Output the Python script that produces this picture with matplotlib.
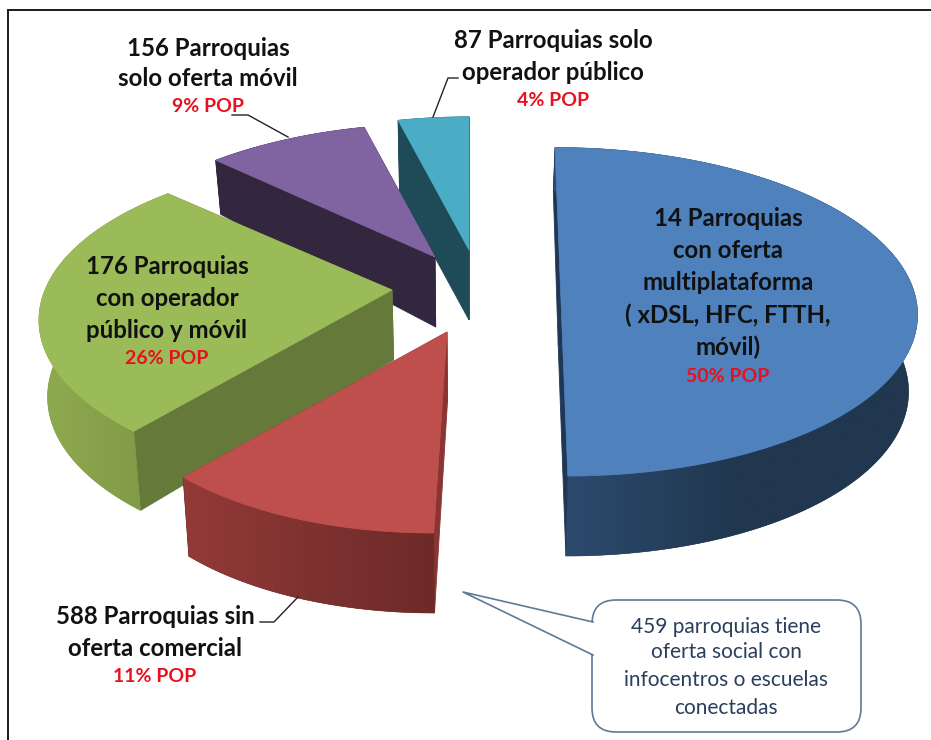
import numpy as np
import matplotlib
matplotlib.use("Agg")
import matplotlib.pyplot as plt
from matplotlib.colors import LinearSegmentedColormap
from matplotlib.patches import Polygon, FancyBboxPatch

# ---------- data ----------
pop_share = [50, 11, 26, 9, 4]
parroquias = [14, 588, 176, 156, 87]
name_lines = [
    ["{n} Parroquias", "con oferta", "multiplataforma", "( xDSL, HFC, FTTH,", "móvil)"],
    ["{n} Parroquias sin", "oferta comercial"],
    ["{n} Parroquias", "con operador", "público y móvil"],
    ["{n} Parroquias", "solo oferta móvil"],
    ["{n} Parroquias solo", "operador público"],
]
callout_lines = ["459 parroquias tiene", "oferta social con", "infocentros o escuelas", "conectadas"]

# ---------- style / layout ----------
top_col = ["#4F81BD", "#BE4F4C", "#9BBB59", "#8064A2", "#4BACC6"]
side_col = ["#1F3654", "#8A3533", "#65793A", "#33263F", "#1F4A57"]
wall_cols = [["#2E4C70", "#20374F", "#20374F"],
             ["#943A38", "#7E3230", "#6E2A28"],
             ["#8FAB4F", "#86A04A", "#7D9645"],
             ["#33263F", "#33263F"],
             ["#1F4A57", "#1F4A57"]]
# apex x, apex y, radius x, radius y, shear, perspective, depth at the far rim
geom = [(560, 275, 347, 156, 0.039, 0.224, 44),
        (447, 332, 330, 156, -0.066, 0.224, 44),
        (392, 290, 347, 158, -0.01, 0.18, 44),
        (435, 257, 347, 163, 0.0, 0.224, 44),
        (469, 250, 347, 163, 0.0, 0.224, 72)]
text_at = [(728, 219, 32), (155, 616, 32), (167, 266, 32), (208, 48, 31), (553, 41, 31)]
VX = 470

fig = plt.figure(figsize=(9.31, 7.40), dpi=100, facecolor="white")
ax = fig.add_axes([0, 0, 1, 1])
ax.axis("off")

ax.plot([8, 8, 931], [740, 10, 10], color="#1a1a1a", lw=1.4, solid_joinstyle="miter", zorder=1)


def rim(g, theta):
    x0, y0, rx, ry, sh, k, _ = g
    u, v = np.sin(theta), np.cos(theta)
    p = 1 / (1 + k * v)
    dy = -ry * v * p
    return x0 + rx * u * p + sh * dy, y0 + dy


def drop(x, y, depth):
    return x - 0.02 * (x - VX), y + depth


edges = np.cumsum([0] + pop_share) / sum(pop_share) * 2 * np.pi
zo = 2
for i in [4, 3, 2, 1, 0]:
    g = geom[i]
    th = np.linspace(edges[i], edges[i + 1], 160)
    xs, ys = rim(g, th)
    depth = np.interp(np.cos(th), [-1, 0, 1], [80, 76, g[6]])
    xb, yb = drop(xs, ys, depth)
    ax0, ay0 = g[0], g[1]
    axb, ayb = drop(ax0, ay0, 70)
    # radial faces
    for j in (0, -1):
        ax.add_patch(Polygon([(ax0, ay0), (xs[j], ys[j]), (xb[j], yb[j]), (axb, ayb)],
                             closed=True, fc=side_col[i], ec=side_col[i], lw=0.6, zorder=zo))
    # outer wall: horizontal gradient clipped to the wall outline
    outline = np.vstack([np.column_stack([xs, ys]), np.column_stack([xb, yb])[::-1]])
    wall = Polygon(outline, closed=True, fc=wall_cols[i][-1], ec=wall_cols[i][-1], lw=0.4, zorder=zo + 0.1)
    ax.add_patch(wall)
    cmap = LinearSegmentedColormap.from_list(f"w{i}", wall_cols[i])
    im = ax.imshow(np.linspace(0, 1, 256)[None, :], cmap=cmap, aspect="auto",
                   extent=(min(xs.min(), xb.min()), max(xs.max(), xb.max()),
                           max(ys.max(), yb.max()), min(ys.min(), yb.min())),
                   zorder=zo + 0.15)
    im.set_clip_path(wall)
    # top face
    ax.add_patch(Polygon(np.vstack([[ax0, ay0], np.column_stack([xs, ys])]), closed=True,
                         fc=top_col[i], ec=top_col[i], lw=0.5, zorder=zo + 0.2))
    zo += 1

# leader lines
for lx, ly in [([433, 448, 458], [117, 78, 78]),
               ([288, 248, 232], [137, 115, 115]),
               ([298, 274, 260], [597, 622, 622])]:
    ax.plot(lx, ly, color="#222222", lw=1.0, zorder=9)

FONT = "Lato"
FS = 17.3
for i in range(5):
    x, y, step = text_at[i]
    lines = name_lines[i]
    for j, s in enumerate(lines):
        ax.text(x, y + j * step, s.format(n=parroquias[i]), ha="center", va="center",
                family=FONT, weight="bold", fontsize=FS, color="#111111", zorder=10)
    ax.text(x, y + len(lines) * step - 3, f"{pop_share[i]}% POP", ha="center", va="center",
            family=FONT, weight="bold", fontsize=14, color="#E8101E", zorder=10)

# callout
EDGE = "#5F7A99"
ax.add_patch(FancyBboxPatch((592 + 24, 600 + 24), 269 - 48, 132 - 48,
                            boxstyle="round,pad=24,rounding_size=24", fc="white", ec=EDGE, lw=1.2, zorder=8))
ax.add_patch(Polygon([(593, 622), (463, 592), (593, 655)], closed=True, fc="white", ec="none", zorder=8.1))
ax.plot([593, 463, 593], [622, 592, 655], color=EDGE, lw=1.2, zorder=8.2)
for s, y in zip(callout_lines, [627, 652, 680, 708]):
    ax.text(726, y, s, ha="center", va="center", family=FONT, fontsize=15, color="#2A3F5C", zorder=10)

ax.set_xlim(0, 931)
ax.set_ylim(740, 0)
fig.savefig("out.png", dpi=100, facecolor="white")
